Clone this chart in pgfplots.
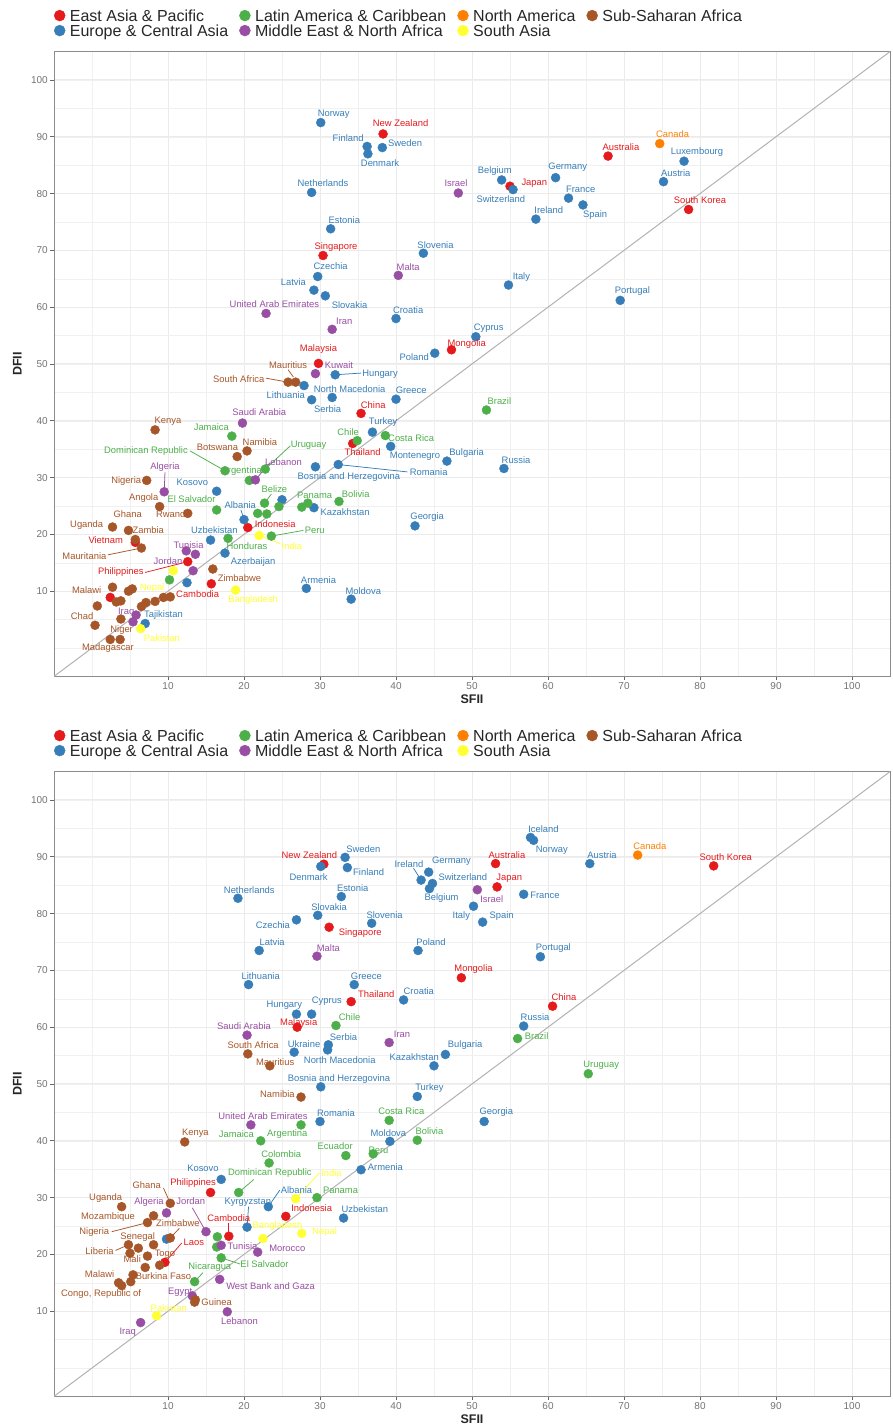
\documentclass[border=0pt]{standalone}
\usepackage{fontspec}
\setmainfont{Liberation Sans}
\usepackage{pgfplots}
\usepackage{pgfplotstable}
\pgfplotsset{compat=1.18}

\definecolor{cEAP}{HTML}{E41A1C}
\definecolor{cECA}{HTML}{377EB8}
\definecolor{cLAC}{HTML}{4DAF4A}
\definecolor{cMENA}{HTML}{984EA3}
\definecolor{cNA}{HTML}{FF7F00}
\definecolor{cSA}{HTML}{FFFF33}
\definecolor{cSSA}{HTML}{A65628}

\newcommand\labfont{\fontsize{9.4}{10}\selectfont}

% group codes: 1 EAP, 2 ECA, 3 LAC, 4 MENA, 5 NA, 6 SA, 7 SSA
\pgfplotsset{
  only group/.style={restrict expr to domain={\thisrow{g}-#1}{-0.1:0.1}},
  panel/.style={
    width=836pt, height=624.8pt, scale only axis,
    xmin=-5, xmax=105, ymin=-5, ymax=105,
    xtick={10,20,...,100}, ytick={10,20,...,100},
    minor xtick={0,5,...,105}, minor ytick={0,5,...,105},
    grid=both,
    major grid style={draw=black!8, line width=1pt},
    minor grid style={draw=black!6, line width=0.55pt},
    axis line style={draw=black!45, line width=1pt},
    tick align=outside, tick pos=left,
    major tick length=3.7pt, minor tick length=0pt,
    tick style={draw=black!60, line width=0.8pt},
    /pgf/number format/assume math mode=true,
    ticklabel style={font=\fontsize{10}{12}\selectfont, text=black!55, inner sep=0pt},
    xticklabel style={anchor=center, yshift=-6.3pt},
    yticklabel style={anchor=east, xshift=-2.3pt},
    xlabel={SFII}, ylabel={DFII},
    label style={font=\bfseries\fontsize{12.5}{14}\selectfont, text=black!85, inner sep=0pt},
    x label style={at={(axis description cs:0.5,-0.037)}, anchor=center},
    y label style={at={(axis description cs:-0.044,0.5)}, anchor=center},
    legend columns=4,
    legend cell align=left,
    legend image code/.code={\fill[##1] (0pt,0pt) circle (5.5pt);},
    legend style={draw=none, fill=none, inner sep=0pt, outer sep=0pt,
      at={(axis description cs:0,1)}, anchor=south west, yshift=15.25pt,
      font=\fontsize{16}{16}\selectfont, text=black!85,
      nodes={inner sep=0pt, text height=11.5pt, text depth=0pt},
      row sep=3.5pt,
      /tikz/every odd column/.append style={column sep=4.5pt},
      /tikz/every even column/.append style={column sep=11pt}},
  },
}

% points, labels and leader lines
\newcommand\pts[3]{\addplot[only marks, mark=*, mark size=4.5pt, color=#3,
  mark options={solid, draw=#3, fill=#3, line width=0.4pt}]
  table[x=x, y=y, only group=#2] {#1};}
\newcommand\labs[3]{\addplot[only marks, mark=*, mark size=0pt, mark options={draw=none, fill=none},
  point meta=explicit symbolic, nodes near coords,
  nodes near coords style={anchor=center, inner sep=0pt, text=#3, font=\labfont}]
  table[x=lx, y=ly, meta=name, only group=#2] {#1};}
\newcommand\seg[5]{\addplot[#1, line width=0.75pt] coordinates {(#2,#3) (#4,#5)};}
\newcommand\legendall{%
  \addlegendimage{color=cEAP}\addlegendentry{East Asia \& Pacific}
  \addlegendimage{color=cLAC}\addlegendentry{Latin America \& Caribbean}
  \addlegendimage{color=cNA}\addlegendentry{North America}
  \addlegendimage{color=cSSA}\addlegendentry{Sub-Saharan Africa}
  \addlegendimage{color=cECA}\addlegendentry{Europe \& Central Asia}
  \addlegendimage{color=cMENA}\addlegendentry{Middle East \& North Africa}
  \addlegendimage{color=cSA}\addlegendentry{South Asia}}
\newcommand\allgroups[1]{%
  \pts{#1}{1}{cEAP}\pts{#1}{2}{cECA}\pts{#1}{3}{cLAC}\pts{#1}{4}{cMENA}
  \pts{#1}{5}{cNA}\pts{#1}{6}{cSA}\pts{#1}{7}{cSSA}}
\newcommand\alllabels[1]{%
  \labs{#1}{1}{cEAP}\labs{#1}{2}{cECA}\labs{#1}{3}{cLAC}\labs{#1}{4}{cMENA}
  \labs{#1}{5}{cNA}\labs{#1}{6}{cSA}\labs{#1}{7}{cSSA}}

% upper panel
\pgfplotstableread[col sep=semicolon]{
g;x;y;lx;ly;name
1;38.3;90.5;40.6;92.4;New Zealand
1;67.9;86.6;69.6;88.1;Australia
1;55.0;81.3;58.2;81.8;Japan
1;78.5;77.2;80.0;78.8;South Korea
1;30.4;69.1;32.1;70.6;Singapore
1;47.3;52.5;49.3;53.5;Mongolia
1;29.8;50.1;29.8;52.7;Malaysia
1;35.4;41.3;37.0;42.7;China
1;34.3;36.0;35.6;34.4;Thailand
1;20.5;21.2;24.1;21.8;Indonesia
1;12.6;15.2;3.8;13.3;Philippines
1;15.7;11.3;13.9;9.4;Cambodia
1;5.7;18.6;1.8;19.0;Vietnam
1;2.4;8.9;nan;nan;none
2;30.1;92.5;31.8;94.0;Norway
2;36.2;88.3;33.7;89.7;Finland
2;36.3;87.0;37.9;85.3;Denmark
2;38.2;88.1;41.2;88.8;Sweden
2;28.9;80.2;30.4;81.8;Netherlands
2;31.4;73.8;33.2;75.3;Estonia
2;43.6;69.5;45.2;70.9;Slovenia
2;53.9;82.4;53.0;84.0;Belgium
2;55.4;80.7;53.8;79.0;Switzerland
2;61.0;82.8;62.6;84.6;Germany
2;62.7;79.2;64.3;80.7;France
2;64.6;78.0;66.2;76.3;Spain
2;58.4;75.5;60.1;77.0;Ireland
2;77.9;85.7;79.6;87.3;Luxembourg
2;75.2;82.1;76.8;83.6;Austria
2;54.8;63.9;56.5;65.3;Italy
2;69.5;61.2;71.1;62.8;Portugal
2;29.7;65.4;31.4;67.3;Czechia
2;29.2;63.0;26.5;64.4;Latvia
2;30.7;62.0;33.9;60.4;Slovakia
2;40.0;58.0;41.6;59.5;Croatia
2;50.5;54.8;52.2;56.3;Cyprus
2;45.1;51.9;42.4;51.2;Poland
2;32.0;48.1;37.9;48.2;Hungary
2;27.9;46.2;33.9;45.6;North Macedonia
2;28.9;43.7;25.5;44.5;Lithuania
2;31.6;44.1;31.0;42.0;Serbia
2;40.0;43.8;42.0;45.4;Greece
2;36.9;38.0;38.3;39.7;Turkey
2;39.3;35.5;42.5;33.7;Montenegro
2;46.7;32.9;49.3;34.4;Bulgaria
2;54.2;31.6;55.8;33.1;Russia
2;42.5;21.5;44.1;23.1;Georgia
2;29.4;31.9;33.8;30.1;Bosnia and Herzegovina
2;32.4;32.3;44.3;31.0;Romania
2;16.4;27.6;13.2;29.2;Kosovo
2;25.0;26.1;nan;nan;none
2;29.2;24.7;33.3;23.9;Kazakhstan
2;20.0;22.6;19.5;25.2;Albania
2;15.6;19.0;16.1;20.8;Uzbekistan
2;17.5;16.7;21.2;15.1;Azerbaijan
2;12.5;11.5;nan;nan;none
2;28.2;10.5;29.8;12.0;Armenia
2;34.1;8.6;35.7;10.0;Moldova
2;7.0;4.3;9.4;5.8;Tajikistan
3;51.9;41.9;53.6;43.4;Brazil
3;18.4;37.3;15.7;38.8;Jamaica
3;34.9;36.5;33.7;38.0;Chile
3;38.6;37.4;42.0;37.0;Costa Rica
3;17.5;31.2;7.1;34.7;Dominican Republic
3;22.8;31.5;28.5;35.7;Uruguay
3;20.7;29.5;19.7;31.1;Argentina
3;16.4;24.3;13.1;26.2;El Salvador
3;22.7;25.5;24.0;27.9;Belize
3;24.6;24.9;nan;nan;none
3;21.8;23.7;nan;nan;none
3;23.0;23.6;nan;nan;none
3;28.4;25.5;29.3;26.9;Panama
3;27.6;24.8;nan;nan;none
3;32.5;25.8;34.7;27.1;Bolivia
3;17.9;19.3;20.4;18.0;Honduras
3;23.6;19.7;29.3;20.8;Peru
3;10.2;12.0;nan;nan;none
4;48.2;80.1;47.9;81.8;Israel
4;40.3;65.6;41.6;67.1;Malta
4;22.9;58.9;24.0;60.5;United Arab Emirates
4;31.6;56.1;33.2;57.6;Iran
4;29.4;48.3;32.5;49.8;Kuwait
4;19.8;39.6;22.0;41.5;Saudi Arabia
4;21.5;29.6;25.2;32.8;Lebanon
4;9.5;27.5;9.6;31.8;Algeria
4;12.4;17.1;12.7;18.1;Tunisia
4;13.6;16.5;nan;nan;none
4;13.3;13.6;10.0;15.3;Jordan
4;5.8;5.8;4.5;6.3;Iraq
4;5.4;4.6;nan;nan;none
5;74.7;88.8;76.4;90.4;Canada
6;22.0;19.8;26.3;18.0;India
6;10.7;13.6;7.9;10.6;Nepal
6;18.9;10.2;21.2;8.5;Bangladesh
6;6.4;3.4;9.2;1.8;Pakistan
7;26.8;46.8;25.8;49.8;Mauritius
7;25.8;46.8;19.3;47.3;South Africa
7;8.3;38.4;10.0;39.9;Kenya
7;19.1;33.7;16.5;35.3;Botswana
7;20.4;34.7;22.1;36.3;Namibia
7;7.2;29.5;4.5;29.4;Nigeria
7;8.9;24.9;6.8;26.4;Angola
7;12.6;23.7;10.7;23.6;Rwanda
7;4.8;20.7;4.7;23.6;Ghana
7;2.7;21.3;-0.7;21.7;Uganda
7;5.7;19.1;7.4;20.8;Zambia
7;6.5;17.6;-1.0;16.2;Mauritania
7;15.9;13.9;19.4;12.3;Zimbabwe
7;2.7;10.7;-0.7;10.2;Malawi
7;5.3;10.4;nan;nan;none
7;4.8;10.0;nan;nan;none
7;3.2;8.1;nan;nan;none
7;3.8;8.3;nan;nan;none
7;0.7;7.4;nan;nan;none
7;6.5;7.3;nan;nan;none
7;7.1;8.0;nan;nan;none
7;8.3;8.2;nan;nan;none
7;9.4;8.9;nan;nan;none
7;10.3;9.0;nan;nan;none
7;0.4;4.0;-1.3;5.6;Chad
7;3.8;5.1;nan;nan;none
7;3.7;1.5;3.9;3.2;Niger
7;2.4;1.5;2.1;-0.1;Madagascar
}\topdata

% lower panel
\pgfplotstableread[col sep=semicolon]{
g;x;y;lx;ly;name
1;30.5;88.7;28.6;90.3;New Zealand
1;53.1;88.8;54.6;90.3;Australia
1;53.3;84.7;54.9;86.2;Japan
1;81.8;88.4;83.4;89.9;South Korea
1;31.2;77.6;35.3;76.5;Singapore
1;48.6;68.7;50.2;70.2;Mongolia
1;34.1;64.5;37.4;65.8;Thailand
1;60.6;63.7;62.1;65.3;China
1;27.0;60.0;27.2;60.7;Malaysia
1;15.6;30.9;13.3;32.6;Philippines
1;25.5;26.7;28.9;28.1;Indonesia
1;18.0;23.2;18.0;26.3;Cambodia
1;9.6;18.6;13.4;22.2;Laos
2;57.7;93.4;59.4;94.9;Iceland
2;58.1;92.9;60.5;91.1;Norway
2;65.5;88.8;67.1;90.3;Austria
2;33.3;89.9;35.7;91.4;Sweden
2;30.1;88.3;28.5;86.5;Denmark
2;33.6;88.1;36.4;87.3;Finland
2;43.3;85.9;41.7;88.7;Ireland
2;44.3;87.3;47.3;89.2;Germany
2;44.8;85.3;48.8;86.4;Switzerland
2;44.4;84.4;46.0;82.7;Belgium
2;56.8;83.4;59.6;83.3;France
2;19.2;82.7;20.7;84.2;Netherlands
2;32.8;83.0;34.3;84.5;Estonia
2;29.7;79.7;31.2;81.2;Slovakia
2;26.9;78.9;23.8;77.9;Czechia
2;36.8;78.3;38.5;79.8;Slovenia
2;50.2;81.3;48.6;79.6;Italy
2;51.4;78.5;53.9;79.6;Spain
2;59.0;72.4;60.7;74.0;Portugal
2;22.0;73.5;23.7;75.0;Latvia
2;42.9;73.5;44.6;75.0;Poland
2;20.6;67.5;22.2;69.0;Lithuania
2;34.5;67.5;36.1;69.0;Greece
2;41.0;64.8;43.0;66.3;Croatia
2;26.9;62.3;25.3;63.9;Hungary
2;28.9;62.3;30.9;64.5;Cyprus
2;56.8;60.2;58.3;61.7;Russia
2;31.1;56.9;33.1;58.3;Serbia
2;26.6;55.6;27.9;57.0;Ukraine
2;31.0;56.0;32.6;54.2;North Macedonia
2;46.5;55.2;49.1;56.8;Bulgaria
2;45.0;53.2;42.4;54.8;Kazakhstan
2;30.1;49.5;32.5;50.9;Bosnia and Herzegovina
2;42.8;47.8;44.4;49.3;Turkey
2;30.0;43.4;32.1;44.9;Romania
2;51.6;43.4;53.2;45.0;Georgia
2;39.2;39.9;39.0;41.4;Moldova
2;35.4;34.9;38.6;35.4;Armenia
2;17.0;33.2;14.6;35.2;Kosovo
2;23.2;28.4;26.9;31.3;Albania
2;20.4;24.8;20.5;29.2;Kyrgyzstan
2;33.1;26.4;35.9;27.9;Uzbekistan
2;9.8;22.7;nan;nan;none
3;32.1;60.3;33.9;61.7;Chile
3;56.0;58.0;58.5;58.5;Brazil
3;65.3;51.8;67.0;53.3;Uruguay
3;39.1;43.6;40.7;45.2;Costa Rica
3;27.5;42.8;25.7;41.1;Argentina
3;22.2;40.0;19.0;41.1;Jamaica
3;42.8;40.1;44.4;41.7;Bolivia
3;23.3;36.1;24.9;37.7;Colombia
3;33.4;37.4;32.0;39.0;Ecuador
3;37.0;37.7;37.7;38.3;Peru
3;19.3;30.9;23.4;34.3;Dominican Republic
3;29.6;30.0;32.7;31.3;Panama
3;16.5;23.1;nan;nan;none
3;16.4;21.3;nan;nan;none
3;17.0;19.4;22.7;18.3;El Salvador
3;13.5;15.2;15.5;17.7;Nicaragua
4;50.7;84.2;52.6;82.5;Israel
4;29.6;72.5;31.1;73.9;Malta
4;20.4;58.6;20.0;60.1;Saudi Arabia
4;39.1;57.3;40.8;58.7;Iran
4;20.9;42.8;22.5;44.4;United Arab Emirates
4;9.8;27.3;7.5;29.3;Algeria
4;15.0;24.0;13.0;29.3;Jordan
4;17.0;21.6;19.8;21.5;Tunisia
4;21.8;20.4;25.7;21.1;Morocco
4;16.8;15.6;23.5;14.4;West Bank and Gaza
4;13.2;12.7;11.6;13.4;Egypt
4;17.8;9.9;19.4;8.2;Lebanon
4;6.4;8.0;4.7;6.3;Iraq
5;71.8;90.3;73.4;91.8;Canada
6;26.8;29.8;31.5;34.3;India
6;22.5;22.8;24.4;24.9;Bangladesh
6;27.6;23.7;30.6;24.0;Nepal
6;8.5;9.2;10.1;10.6;Pakistan
7;20.5;55.3;21.2;56.8;South Africa
7;23.4;53.2;24.1;53.9;Mauritius
7;27.5;47.7;24.4;48.2;Namibia
7;12.2;39.8;13.6;41.3;Kenya
7;10.3;29.0;7.2;32.2;Ghana
7;3.9;28.4;1.8;29.9;Uganda
7;8.1;26.8;2.1;26.5;Mozambique
7;7.3;25.6;0.3;23.9;Nigeria
7;10.3;22.9;11.3;25.5;Zimbabwe
7;8.1;21.7;6.0;23.1;Senegal
7;4.8;21.7;1.0;20.5;Liberia
7;6.1;21.1;nan;nan;none
7;5.0;20.2;nan;nan;none
7;7.3;19.7;5.3;19.2;Mali
7;8.9;18.1;9.6;20.1;Togo
7;7.0;17.7;nan;nan;none
7;5.4;16.4;9.4;16.1;Burkina Faso
7;3.5;15.0;1.0;16.5;Malawi
7;3.9;14.5;1.2;13.0;Congo, Republic of
7;5.1;15.2;nan;nan;none
7;13.5;11.6;16.4;11.6;Guinea
7;13.6;12.0;nan;nan;none
}\botdata

\begin{document}
\begin{tikzpicture}
\path[use as bounding box] (0,0) rectangle (893pt,1426pt);

\begin{axis}[panel, at={(54pt,749.6pt)}, anchor=south west]
\legendall
\addplot[black!30, line width=1pt] coordinates {(-5,-5) (105,105)};
\allgroups{\topdata}
\seg{cSSA}{25.8}{49.0}{26.5}{47.7}
\seg{cSSA}{22.9}{47.5}{25.8}{46.8}
\seg{cECA}{32.0}{48.1}{35.4}{48.4}
\seg{cLAC}{12.9}{34.7}{17.5}{31.2}
\seg{cLAC}{26.1}{35.6}{22.8}{31.5}
\seg{cMENA}{23.4}{32.6}{21.5}{29.6}
\seg{cMENA}{9.6}{30.9}{9.5}{27.5}
\seg{cECA}{32.4}{32.3}{41.5}{31.0}
\seg{cLAC}{23.6}{27.1}{22.7}{25.5}
\seg{cECA}{19.6}{24.3}{20.0}{22.6}
\seg{cSSA}{2.1}{16.4}{6.5}{17.6}
\seg{cEAP}{7.0}{13.3}{12.6}{15.2}
\seg{cSA}{22.0}{19.8}{24.7}{18.4}
\seg{cLAC}{23.6}{19.7}{27.8}{20.7}
\alllabels{\topdata}
\end{axis}

\begin{axis}[panel, at={(54pt,29.6pt)}, anchor=south west]
\legendall
\addplot[black!30, line width=1pt] coordinates {(-5,-5) (105,105)};
\allgroups{\botdata}
\seg{cECA}{42.3}{88.0}{43.3}{85.9}
\seg{cLAC}{21.3}{33.2}{19.3}{30.9}
\seg{cSA}{29.9}{34.3}{26.8}{29.8}
\seg{cECA}{24.7}{31.3}{23.2}{28.4}
\seg{cECA}{20.6}{28.4}{20.4}{24.8}
\seg{cSSA}{9.4}{31.7}{10.3}{29.0}
\seg{cMENA}{13.2}{28.2}{15.0}{24.0}
\seg{cSSA}{2.6}{24.0}{7.3}{25.6}
\seg{cSSA}{11.5}{24.6}{10.3}{22.9}
\seg{cEAP}{18.0}{25.5}{18.0}{23.2}
\seg{cSSA}{3.1}{20.7}{4.8}{21.7}
\seg{cEAP}{11.8}{22.0}{9.6}{18.6}
\seg{cLAC}{19.5}{18.3}{17.0}{19.4}
\seg{cLAC}{14.6}{16.8}{13.5}{15.2}
\alllabels{\botdata}
\end{axis}
\end{tikzpicture}
\end{document}
